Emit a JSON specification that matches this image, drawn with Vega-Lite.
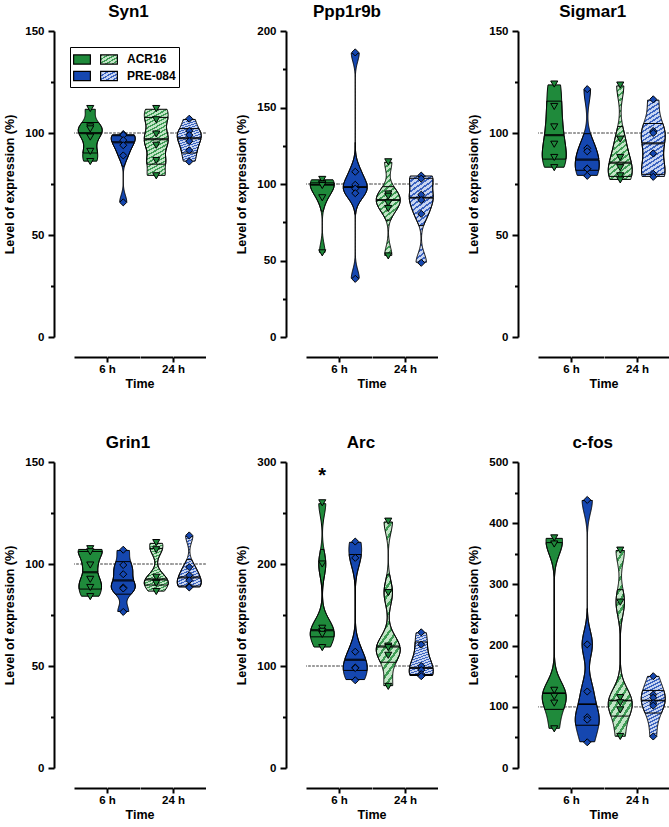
{
"$schema":"https://vega.github.io/schema/vega-lite/v6.json",
"padding":{"left":3,"top":3,"right":0,"bottom":0},
"params":[
{"name":"gG","value":{"gradient":"linear","x1":0,"y1":0,"x2":0.25,"y2":1.25,"stops":[{"offset":0,"color":"#3f9c55"},{"offset":0.018,"color":"#3f9c55"},{"offset":0.018,"color":"#c2e5c6"},{"offset":0.045,"color":"#c2e5c6"},{"offset":0.045,"color":"#3f9c55"},{"offset":0.064,"color":"#3f9c55"},{"offset":0.064,"color":"#c2e5c6"},{"offset":0.091,"color":"#c2e5c6"},{"offset":0.091,"color":"#3f9c55"},{"offset":0.109,"color":"#3f9c55"},{"offset":0.109,"color":"#c2e5c6"},{"offset":0.136,"color":"#c2e5c6"},{"offset":0.136,"color":"#3f9c55"},{"offset":0.155,"color":"#3f9c55"},{"offset":0.155,"color":"#c2e5c6"},{"offset":0.182,"color":"#c2e5c6"},{"offset":0.182,"color":"#3f9c55"},{"offset":0.2,"color":"#3f9c55"},{"offset":0.2,"color":"#c2e5c6"},{"offset":0.227,"color":"#c2e5c6"},{"offset":0.227,"color":"#3f9c55"},{"offset":0.245,"color":"#3f9c55"},{"offset":0.245,"color":"#c2e5c6"},{"offset":0.273,"color":"#c2e5c6"},{"offset":0.273,"color":"#3f9c55"},{"offset":0.291,"color":"#3f9c55"},{"offset":0.291,"color":"#c2e5c6"},{"offset":0.318,"color":"#c2e5c6"},{"offset":0.318,"color":"#3f9c55"},{"offset":0.336,"color":"#3f9c55"},{"offset":0.336,"color":"#c2e5c6"},{"offset":0.364,"color":"#c2e5c6"},{"offset":0.364,"color":"#3f9c55"},{"offset":0.382,"color":"#3f9c55"},{"offset":0.382,"color":"#c2e5c6"},{"offset":0.409,"color":"#c2e5c6"},{"offset":0.409,"color":"#3f9c55"},{"offset":0.427,"color":"#3f9c55"},{"offset":0.427,"color":"#c2e5c6"},{"offset":0.455,"color":"#c2e5c6"},{"offset":0.455,"color":"#3f9c55"},{"offset":0.473,"color":"#3f9c55"},{"offset":0.473,"color":"#c2e5c6"},{"offset":0.5,"color":"#c2e5c6"},{"offset":0.5,"color":"#3f9c55"},{"offset":0.518,"color":"#3f9c55"},{"offset":0.518,"color":"#c2e5c6"},{"offset":0.545,"color":"#c2e5c6"},{"offset":0.545,"color":"#3f9c55"},{"offset":0.564,"color":"#3f9c55"},{"offset":0.564,"color":"#c2e5c6"},{"offset":0.591,"color":"#c2e5c6"},{"offset":0.591,"color":"#3f9c55"},{"offset":0.609,"color":"#3f9c55"},{"offset":0.609,"color":"#c2e5c6"},{"offset":0.636,"color":"#c2e5c6"},{"offset":0.636,"color":"#3f9c55"},{"offset":0.655,"color":"#3f9c55"},{"offset":0.655,"color":"#c2e5c6"},{"offset":0.682,"color":"#c2e5c6"},{"offset":0.682,"color":"#3f9c55"},{"offset":0.7,"color":"#3f9c55"},{"offset":0.7,"color":"#c2e5c6"},{"offset":0.727,"color":"#c2e5c6"},{"offset":0.727,"color":"#3f9c55"},{"offset":0.745,"color":"#3f9c55"},{"offset":0.745,"color":"#c2e5c6"},{"offset":0.773,"color":"#c2e5c6"},{"offset":0.773,"color":"#3f9c55"},{"offset":0.791,"color":"#3f9c55"},{"offset":0.791,"color":"#c2e5c6"},{"offset":0.818,"color":"#c2e5c6"},{"offset":0.818,"color":"#3f9c55"},{"offset":0.836,"color":"#3f9c55"},{"offset":0.836,"color":"#c2e5c6"},{"offset":0.864,"color":"#c2e5c6"},{"offset":0.864,"color":"#3f9c55"},{"offset":0.882,"color":"#3f9c55"},{"offset":0.882,"color":"#c2e5c6"},{"offset":0.909,"color":"#c2e5c6"},{"offset":0.909,"color":"#3f9c55"},{"offset":0.927,"color":"#3f9c55"},{"offset":0.927,"color":"#c2e5c6"},{"offset":0.955,"color":"#c2e5c6"},{"offset":0.955,"color":"#3f9c55"},{"offset":0.973,"color":"#3f9c55"},{"offset":0.973,"color":"#c2e5c6"},{"offset":1,"color":"#c2e5c6"}]}},
{"name":"gB","value":{"gradient":"linear","x1":0,"y1":0,"x2":0.25,"y2":1.25,"stops":[{"offset":0,"color":"#3b63c0"},{"offset":0.018,"color":"#3b63c0"},{"offset":0.018,"color":"#c8d5f1"},{"offset":0.045,"color":"#c8d5f1"},{"offset":0.045,"color":"#3b63c0"},{"offset":0.064,"color":"#3b63c0"},{"offset":0.064,"color":"#c8d5f1"},{"offset":0.091,"color":"#c8d5f1"},{"offset":0.091,"color":"#3b63c0"},{"offset":0.109,"color":"#3b63c0"},{"offset":0.109,"color":"#c8d5f1"},{"offset":0.136,"color":"#c8d5f1"},{"offset":0.136,"color":"#3b63c0"},{"offset":0.155,"color":"#3b63c0"},{"offset":0.155,"color":"#c8d5f1"},{"offset":0.182,"color":"#c8d5f1"},{"offset":0.182,"color":"#3b63c0"},{"offset":0.2,"color":"#3b63c0"},{"offset":0.2,"color":"#c8d5f1"},{"offset":0.227,"color":"#c8d5f1"},{"offset":0.227,"color":"#3b63c0"},{"offset":0.245,"color":"#3b63c0"},{"offset":0.245,"color":"#c8d5f1"},{"offset":0.273,"color":"#c8d5f1"},{"offset":0.273,"color":"#3b63c0"},{"offset":0.291,"color":"#3b63c0"},{"offset":0.291,"color":"#c8d5f1"},{"offset":0.318,"color":"#c8d5f1"},{"offset":0.318,"color":"#3b63c0"},{"offset":0.336,"color":"#3b63c0"},{"offset":0.336,"color":"#c8d5f1"},{"offset":0.364,"color":"#c8d5f1"},{"offset":0.364,"color":"#3b63c0"},{"offset":0.382,"color":"#3b63c0"},{"offset":0.382,"color":"#c8d5f1"},{"offset":0.409,"color":"#c8d5f1"},{"offset":0.409,"color":"#3b63c0"},{"offset":0.427,"color":"#3b63c0"},{"offset":0.427,"color":"#c8d5f1"},{"offset":0.455,"color":"#c8d5f1"},{"offset":0.455,"color":"#3b63c0"},{"offset":0.473,"color":"#3b63c0"},{"offset":0.473,"color":"#c8d5f1"},{"offset":0.5,"color":"#c8d5f1"},{"offset":0.5,"color":"#3b63c0"},{"offset":0.518,"color":"#3b63c0"},{"offset":0.518,"color":"#c8d5f1"},{"offset":0.545,"color":"#c8d5f1"},{"offset":0.545,"color":"#3b63c0"},{"offset":0.564,"color":"#3b63c0"},{"offset":0.564,"color":"#c8d5f1"},{"offset":0.591,"color":"#c8d5f1"},{"offset":0.591,"color":"#3b63c0"},{"offset":0.609,"color":"#3b63c0"},{"offset":0.609,"color":"#c8d5f1"},{"offset":0.636,"color":"#c8d5f1"},{"offset":0.636,"color":"#3b63c0"},{"offset":0.655,"color":"#3b63c0"},{"offset":0.655,"color":"#c8d5f1"},{"offset":0.682,"color":"#c8d5f1"},{"offset":0.682,"color":"#3b63c0"},{"offset":0.7,"color":"#3b63c0"},{"offset":0.7,"color":"#c8d5f1"},{"offset":0.727,"color":"#c8d5f1"},{"offset":0.727,"color":"#3b63c0"},{"offset":0.745,"color":"#3b63c0"},{"offset":0.745,"color":"#c8d5f1"},{"offset":0.773,"color":"#c8d5f1"},{"offset":0.773,"color":"#3b63c0"},{"offset":0.791,"color":"#3b63c0"},{"offset":0.791,"color":"#c8d5f1"},{"offset":0.818,"color":"#c8d5f1"},{"offset":0.818,"color":"#3b63c0"},{"offset":0.836,"color":"#3b63c0"},{"offset":0.836,"color":"#c8d5f1"},{"offset":0.864,"color":"#c8d5f1"},{"offset":0.864,"color":"#3b63c0"},{"offset":0.882,"color":"#3b63c0"},{"offset":0.882,"color":"#c8d5f1"},{"offset":0.909,"color":"#c8d5f1"},{"offset":0.909,"color":"#3b63c0"},{"offset":0.927,"color":"#3b63c0"},{"offset":0.927,"color":"#c8d5f1"},{"offset":0.955,"color":"#c8d5f1"},{"offset":0.955,"color":"#3b63c0"},{"offset":0.973,"color":"#3b63c0"},{"offset":0.973,"color":"#c8d5f1"},{"offset":1,"color":"#c8d5f1"}]}},
{"name":"lG","value":{"gradient":"linear","x1":0,"y1":0,"x2":1,"y2":1,"stops":[{"offset":0,"color":"#3f9c55"},{"offset":0.08,"color":"#3f9c55"},{"offset":0.08,"color":"#c2e5c6"},{"offset":0.2,"color":"#c2e5c6"},{"offset":0.2,"color":"#3f9c55"},{"offset":0.28,"color":"#3f9c55"},{"offset":0.28,"color":"#c2e5c6"},{"offset":0.4,"color":"#c2e5c6"},{"offset":0.4,"color":"#3f9c55"},{"offset":0.48,"color":"#3f9c55"},{"offset":0.48,"color":"#c2e5c6"},{"offset":0.6,"color":"#c2e5c6"},{"offset":0.6,"color":"#3f9c55"},{"offset":0.68,"color":"#3f9c55"},{"offset":0.68,"color":"#c2e5c6"},{"offset":0.8,"color":"#c2e5c6"},{"offset":0.8,"color":"#3f9c55"},{"offset":0.88,"color":"#3f9c55"},{"offset":0.88,"color":"#c2e5c6"},{"offset":1,"color":"#c2e5c6"}]}},
{"name":"lB","value":{"gradient":"linear","x1":0,"y1":0,"x2":1,"y2":1,"stops":[{"offset":0,"color":"#3b63c0"},{"offset":0.08,"color":"#3b63c0"},{"offset":0.08,"color":"#c8d5f1"},{"offset":0.2,"color":"#c8d5f1"},{"offset":0.2,"color":"#3b63c0"},{"offset":0.28,"color":"#3b63c0"},{"offset":0.28,"color":"#c8d5f1"},{"offset":0.4,"color":"#c8d5f1"},{"offset":0.4,"color":"#3b63c0"},{"offset":0.48,"color":"#3b63c0"},{"offset":0.48,"color":"#c8d5f1"},{"offset":0.6,"color":"#c8d5f1"},{"offset":0.6,"color":"#3b63c0"},{"offset":0.68,"color":"#3b63c0"},{"offset":0.68,"color":"#c8d5f1"},{"offset":0.8,"color":"#c8d5f1"},{"offset":0.8,"color":"#3b63c0"},{"offset":0.88,"color":"#3b63c0"},{"offset":0.88,"color":"#c8d5f1"},{"offset":1,"color":"#c8d5f1"}]}}
],
"datasets":{
"pts":[
{"vid":"Syn1 1","d":"ACR16","v":112},{"vid":"Syn1 1","d":"ACR16","v":103},{"vid":"Syn1 1","d":"ACR16","v":102},{"vid":"Syn1 1","d":"ACR16","v":98},{"vid":"Syn1 1","d":"ACR16","v":91},{"vid":"Syn1 1","d":"ACR16","v":86},
{"vid":"Syn1 2","d":"PRE-084","v":99.5},{"vid":"Syn1 2","d":"PRE-084","v":99},{"vid":"Syn1 2","d":"PRE-084","v":96.5},{"vid":"Syn1 2","d":"PRE-084","v":94},{"vid":"Syn1 2","d":"PRE-084","v":89},{"vid":"Syn1 2","d":"PRE-084","v":66},
{"vid":"Syn1 3","d":"ACR16","v":112},{"vid":"Syn1 3","d":"ACR16","v":106.5},{"vid":"Syn1 3","d":"ACR16","v":99.5},{"vid":"Syn1 3","d":"ACR16","v":94},{"vid":"Syn1 3","d":"ACR16","v":86.5},{"vid":"Syn1 3","d":"ACR16","v":79},
{"vid":"Syn1 4","d":"PRE-084","v":107},{"vid":"Syn1 4","d":"PRE-084","v":101},{"vid":"Syn1 4","d":"PRE-084","v":99},{"vid":"Syn1 4","d":"PRE-084","v":96},{"vid":"Syn1 4","d":"PRE-084","v":91.5},{"vid":"Syn1 4","d":"PRE-084","v":86},
{"vid":"Ppp1r9b 1","d":"ACR16","v":103},{"vid":"Ppp1r9b 1","d":"ACR16","v":100},{"vid":"Ppp1r9b 1","d":"ACR16","v":100},{"vid":"Ppp1r9b 1","d":"ACR16","v":99},{"vid":"Ppp1r9b 1","d":"ACR16","v":91},{"vid":"Ppp1r9b 1","d":"ACR16","v":55},
{"vid":"Ppp1r9b 2","d":"PRE-084","v":186},{"vid":"Ppp1r9b 2","d":"PRE-084","v":108},{"vid":"Ppp1r9b 2","d":"PRE-084","v":99.5},{"vid":"Ppp1r9b 2","d":"PRE-084","v":97},{"vid":"Ppp1r9b 2","d":"PRE-084","v":94},{"vid":"Ppp1r9b 2","d":"PRE-084","v":38},
{"vid":"Ppp1r9b 3","d":"ACR16","v":114.5},{"vid":"Ppp1r9b 3","d":"ACR16","v":93.5},{"vid":"Ppp1r9b 3","d":"ACR16","v":92},{"vid":"Ppp1r9b 3","d":"ACR16","v":87.5},{"vid":"Ppp1r9b 3","d":"ACR16","v":84},{"vid":"Ppp1r9b 3","d":"ACR16","v":53},
{"vid":"Ppp1r9b 4","d":"PRE-084","v":105.5},{"vid":"Ppp1r9b 4","d":"PRE-084","v":103.5},{"vid":"Ppp1r9b 4","d":"PRE-084","v":93},{"vid":"Ppp1r9b 4","d":"PRE-084","v":89.5},{"vid":"Ppp1r9b 4","d":"PRE-084","v":80.5},{"vid":"Ppp1r9b 4","d":"PRE-084","v":48.5},
{"vid":"Sigmar1 1","d":"ACR16","v":124},{"vid":"Sigmar1 1","d":"ACR16","v":113},{"vid":"Sigmar1 1","d":"ACR16","v":103},{"vid":"Sigmar1 1","d":"ACR16","v":94.5},{"vid":"Sigmar1 1","d":"ACR16","v":88},{"vid":"Sigmar1 1","d":"ACR16","v":83},
{"vid":"Sigmar1 2","d":"PRE-084","v":121.5},{"vid":"Sigmar1 2","d":"PRE-084","v":92.5},{"vid":"Sigmar1 2","d":"PRE-084","v":91},{"vid":"Sigmar1 2","d":"PRE-084","v":82.5},{"vid":"Sigmar1 2","d":"PRE-084","v":82.5},{"vid":"Sigmar1 2","d":"PRE-084","v":79},
{"vid":"Sigmar1 3","d":"ACR16","v":123.5},{"vid":"Sigmar1 3","d":"ACR16","v":97},{"vid":"Sigmar1 3","d":"ACR16","v":88},{"vid":"Sigmar1 3","d":"ACR16","v":83},{"vid":"Sigmar1 3","d":"ACR16","v":79},{"vid":"Sigmar1 3","d":"ACR16","v":77},
{"vid":"Sigmar1 4","d":"PRE-084","v":116.5},{"vid":"Sigmar1 4","d":"PRE-084","v":101},{"vid":"Sigmar1 4","d":"PRE-084","v":100},{"vid":"Sigmar1 4","d":"PRE-084","v":90},{"vid":"Sigmar1 4","d":"PRE-084","v":80},{"vid":"Sigmar1 4","d":"PRE-084","v":78.5},
{"vid":"Grin1 1","d":"ACR16","v":107.5},{"vid":"Grin1 1","d":"ACR16","v":106},{"vid":"Grin1 1","d":"ACR16","v":99.5},{"vid":"Grin1 1","d":"ACR16","v":92.5},{"vid":"Grin1 1","d":"ACR16","v":88.5},{"vid":"Grin1 1","d":"ACR16","v":84},
{"vid":"Grin1 2","d":"PRE-084","v":107},{"vid":"Grin1 2","d":"PRE-084","v":99.5},{"vid":"Grin1 2","d":"PRE-084","v":95},{"vid":"Grin1 2","d":"PRE-084","v":88.5},{"vid":"Grin1 2","d":"PRE-084","v":88},{"vid":"Grin1 2","d":"PRE-084","v":76.5},
{"vid":"Grin1 3","d":"ACR16","v":110.5},{"vid":"Grin1 3","d":"ACR16","v":107},{"vid":"Grin1 3","d":"ACR16","v":93.5},{"vid":"Grin1 3","d":"ACR16","v":91},{"vid":"Grin1 3","d":"ACR16","v":90.5},{"vid":"Grin1 3","d":"ACR16","v":86.5},
{"vid":"Grin1 4","d":"PRE-084","v":114},{"vid":"Grin1 4","d":"PRE-084","v":98.5},{"vid":"Grin1 4","d":"PRE-084","v":94.5},{"vid":"Grin1 4","d":"PRE-084","v":92},{"vid":"Grin1 4","d":"PRE-084","v":89},{"vid":"Grin1 4","d":"PRE-084","v":88.5},
{"vid":"Arc 1","d":"ACR16","v":260},{"vid":"Arc 1","d":"ACR16","v":200},{"vid":"Arc 1","d":"ACR16","v":137},{"vid":"Arc 1","d":"ACR16","v":134},{"vid":"Arc 1","d":"ACR16","v":131},{"vid":"Arc 1","d":"ACR16","v":118},
{"vid":"Arc 2","d":"PRE-084","v":222},{"vid":"Arc 2","d":"PRE-084","v":206},{"vid":"Arc 2","d":"PRE-084","v":114},{"vid":"Arc 2","d":"PRE-084","v":98.5},{"vid":"Arc 2","d":"PRE-084","v":98},{"vid":"Arc 2","d":"PRE-084","v":86},
{"vid":"Arc 3","d":"ACR16","v":242},{"vid":"Arc 3","d":"ACR16","v":172},{"vid":"Arc 3","d":"ACR16","v":119.5},{"vid":"Arc 3","d":"ACR16","v":118},{"vid":"Arc 3","d":"ACR16","v":110.5},{"vid":"Arc 3","d":"ACR16","v":80},
{"vid":"Arc 4","d":"PRE-084","v":133},{"vid":"Arc 4","d":"PRE-084","v":121},{"vid":"Arc 4","d":"PRE-084","v":100},{"vid":"Arc 4","d":"PRE-084","v":96},{"vid":"Arc 4","d":"PRE-084","v":92},{"vid":"Arc 4","d":"PRE-084","v":90},
{"vid":"c-fos 1","d":"ACR16","v":376},{"vid":"c-fos 1","d":"ACR16","v":366},{"vid":"c-fos 1","d":"ACR16","v":127},{"vid":"c-fos 1","d":"ACR16","v":117},{"vid":"c-fos 1","d":"ACR16","v":106},{"vid":"c-fos 1","d":"ACR16","v":64},
{"vid":"c-fos 2","d":"PRE-084","v":438},{"vid":"c-fos 2","d":"PRE-084","v":202},{"vid":"c-fos 2","d":"PRE-084","v":125},{"vid":"c-fos 2","d":"PRE-084","v":83},{"vid":"c-fos 2","d":"PRE-084","v":79},{"vid":"c-fos 2","d":"PRE-084","v":42},
{"vid":"c-fos 3","d":"ACR16","v":356},{"vid":"c-fos 3","d":"ACR16","v":271},{"vid":"c-fos 3","d":"ACR16","v":115},{"vid":"c-fos 3","d":"ACR16","v":106.5},{"vid":"c-fos 3","d":"ACR16","v":95},{"vid":"c-fos 3","d":"ACR16","v":51.5},
{"vid":"c-fos 4","d":"PRE-084","v":150},{"vid":"c-fos 4","d":"PRE-084","v":120},{"vid":"c-fos 4","d":"PRE-084","v":115},{"vid":"c-fos 4","d":"PRE-084","v":106},{"vid":"c-fos 4","d":"PRE-084","v":102},{"vid":"c-fos 4","d":"PRE-084","v":51.5}
],
"st":[
{"vid":"Syn1 1","mn":86,"q1":89.75,"md":100,"q3":105.25,"mx":112},
{"vid":"Syn1 2","mn":66,"q1":83.25,"md":95.25,"q3":99.1,"mx":99.5},
{"vid":"Syn1 3","mn":79,"q1":84.6,"md":96.75,"q3":107.9,"mx":112},
{"vid":"Syn1 4","mn":86,"q1":90.1,"md":97.5,"q3":102.5,"mx":107},
{"vid":"Ppp1r9b 1","mn":55,"q1":82,"md":99.5,"q3":100.75,"mx":103},
{"vid":"Ppp1r9b 2","mn":38,"q1":80,"md":98.25,"q3":127.5,"mx":186},
{"vid":"Ppp1r9b 3","mn":53,"q1":76.25,"md":89.75,"q3":98.75,"mx":114.5},
{"vid":"Ppp1r9b 4","mn":48.5,"q1":72.5,"md":91.25,"q3":104,"mx":105.5},
{"vid":"Sigmar1 1","mn":83,"q1":86.75,"md":98.75,"q3":115.75,"mx":124},
{"vid":"Sigmar1 2","mn":79,"q1":81.6,"md":86.75,"q3":99.75,"mx":121.5},
{"vid":"Sigmar1 3","mn":77,"q1":78.5,"md":85.5,"q3":103.6,"mx":123.5},
{"vid":"Sigmar1 4","mn":78.5,"q1":79.6,"md":95,"q3":104.9,"mx":116.5},
{"vid":"Grin1 1","mn":84,"q1":87.4,"md":96,"q3":106.4,"mx":107.5},
{"vid":"Grin1 2","mn":76.5,"q1":85.1,"md":91.75,"q3":101.4,"mx":107},
{"vid":"Grin1 3","mn":86.5,"q1":89.5,"md":92.25,"q3":107.9,"mx":110.5},
{"vid":"Grin1 4","mn":88.5,"q1":88.9,"md":93.25,"q3":102.4,"mx":114},
{"vid":"Arc 1","mn":118,"q1":127.75,"md":135.5,"q3":215,"mx":260,"sig":"*"},
{"vid":"Arc 2","mn":86,"q1":95,"md":106.25,"q3":210,"mx":222,"sig":""},
{"vid":"Arc 3","mn":80,"q1":102.9,"md":118.75,"q3":189.5,"mx":242,"sig":""},
{"vid":"Arc 4","mn":90,"q1":91.5,"md":98,"q3":124,"mx":133,"sig":""},
{"vid":"c-fos 1","mn":64,"q1":95.5,"md":122,"q3":368.5,"mx":376},
{"vid":"c-fos 2","mn":42,"q1":69.75,"md":104,"q3":261,"mx":438},
{"vid":"c-fos 3","mn":51.5,"q1":84.1,"md":110.75,"q3":292.25,"mx":356},
{"vid":"c-fos 4","mn":51.5,"q1":89.4,"md":110.5,"q3":127.5,"mx":150}
]
},
"vconcat":[
{"hconcat":[
{"title":{"text":"Syn1","frame":"group","anchor":"middle","dx":54.5},"data":{"name":"pts"},"transform":[{"filter":"indexof(datum.vid,'Syn1 ')==0"},{"lookup":"vid","from":{"data":{"name":"st"},"key":"vid","fields":["mn","q1","md","q3","mx"]}}],
"facet":{"column":{"field":"vid","type":"nominal","header":{"title":"Time","labels":false,"titleOrient":"bottom"}}},
"spacing":0,"bounds":"flush","resolve":{"scale":{"x":"independent"}},
"spec":{"width":32.5,"height":306,
"encoding":{"y":{"field":"v","type":"quantitative","scale":{"domain":[0,150],"nice":false},"axis":{"title":"Level of expression (%)","values":[0,25,50,75,100,125,150],"labelExpr":"datum.value%50?'':datum.label","tickSize":{"condition":{"test":"datum.value%50==0","value":6},"value":3.5}}}},
"layer":[
{"mark":{"type":"rule","color":"#999999","strokeDash":[2,2]},"encoding":{"y":{"datum":100}}},
{"transform":[{"density":"v","groupby":["vid","d","mn","q1","md","q3","mx"],"bandwidth":3.5,"extent":[0,150],"steps":301,"as":["v","dens"]},{"stack":"dens","groupby":["v","vid"],"offset":"center","as":["x0","x1"]}],
"encoding":{"x":{"field":"x0","type":"quantitative","scale":{"nice":false,"zero":false,"padding":4.25},"axis":null},"x2":{"field":"x1"}},
"layer":[
{"transform":[{"filter":"datum.v>=datum.mn&&datum.v<=datum.mx&&slice(datum.vid,-1)<'3'"}],"mark":{"type":"area","orient":"horizontal"},"encoding":{"color":{"field":"d","type":"nominal","legend":null}}},
{"transform":[{"filter":"datum.v>=datum.mn&&datum.v<=datum.mx&&slice(datum.vid,-1)=='3'"}],"mark":{"type":"area","orient":"horizontal","fill":{"expr":"gG"}}},
{"transform":[{"filter":"datum.v>=datum.mn&&datum.v<=datum.mx&&slice(datum.vid,-1)=='4'"}],"mark":{"type":"area","orient":"horizontal","fill":{"expr":"gB"}}},
{"transform":[{"filter":"datum.v>=datum.q1&&datum.v<=datum.md"}],"mark":{"type":"area","orient":"horizontal","fill":"transparent"}},
{"transform":[{"filter":"datum.v>=datum.md&&datum.v<=datum.q3"}],"mark":{"type":"area","orient":"horizontal","fill":"transparent"}}
]},
{"mark":{"type":"point","filled":true,"stroke":"#000","strokeWidth":1,"size":50,"opacity":1},"encoding":{"x":{"field":"vid","type":"nominal","scale":{"type":"band","paddingInner":0,"paddingOuter":0},"axis":{"title":null,"tickOffset":-16.25,"tickSize":5,"tickOpacity":{"condition":{"test":"slice(datum.value,-1)=='2'||slice(datum.value,-1)=='4'","value":1},"value":0},"labelExpr":"slice(datum.value,-1)=='2'?'6 h':slice(datum.value,-1)=='4'?'24 h':''","labelAngle":0,"labelFlush":false,"labelOverlap":false}},"color":{"field":"d","type":"nominal","legend":null},"shape":{"field":"d","type":"nominal","legend":null}}},
{"transform":[{"filter":"false"}],"mark":{"type":"square","stroke":"#000","opacity":1},"encoding":{"fill":{"field":"lg","type":"nominal","scale":{"domain":["a6","p6","a24","p24"],"range":["#1f8a3b","#1547b0",{"expr":"lG"},{"expr":"lB"}]},"legend":{"orient":"none","legendX":-4,"legendY":16,"columns":2,"title":null,"symbolType":"M-1,-0.55H1V0.55H-1Z","symbolSize":280,"symbolStrokeColor":"#000","symbolStrokeWidth":1.2,"symbolOpacity":1,"labelExpr":"datum.label=='a24'?'ACR16':datum.label=='p24'?'PRE-084':''","labelFontSize":12,"labelFontWeight":"bold","labelColor":"#000","labelOffset":9,"columnPadding":-6,"rowPadding":-2.7,"strokeColor":"#000","padding":3}}}}
],
"resolve":{"scale":{"x":"independent"}}}},
{"title":{"text":"Ppp1r9b","frame":"group","anchor":"middle","dx":41},"data":{"name":"pts"},"transform":[{"filter":"indexof(datum.vid,'Ppp1r9b ')==0"},{"lookup":"vid","from":{"data":{"name":"st"},"key":"vid","fields":["mn","q1","md","q3","mx"]}}],
"facet":{"column":{"field":"vid","type":"nominal","header":{"title":"Time","labels":false,"titleOrient":"bottom"}}},
"spacing":0,"bounds":"flush","resolve":{"scale":{"x":"independent"}},
"spec":{"width":32.5,"height":306,
"encoding":{"y":{"field":"v","type":"quantitative","scale":{"domain":[0,200],"nice":false},"axis":{"title":"Level of expression (%)","values":[0,25,50,75,100,125,150,175,200],"labelExpr":"datum.value%50?'':datum.label","tickSize":{"condition":{"test":"datum.value%50==0","value":6},"value":3.5}}}},
"layer":[
{"mark":{"type":"rule","color":"#999999","strokeDash":[2,2]},"encoding":{"y":{"datum":100}}},
{"transform":[{"density":"v","groupby":["vid","d","mn","q1","md","q3","mx"],"bandwidth":6,"extent":[0,200],"steps":401,"as":["v","dens"]},{"stack":"dens","groupby":["v","vid"],"offset":"center","as":["x0","x1"]}],
"encoding":{"x":{"field":"x0","type":"quantitative","scale":{"nice":false,"zero":false,"padding":4.25},"axis":null},"x2":{"field":"x1"}},
"layer":[
{"transform":[{"filter":"datum.v>=datum.mn&&datum.v<=datum.mx&&slice(datum.vid,-1)<'3'"}],"mark":{"type":"area","orient":"horizontal"},"encoding":{"color":{"field":"d","type":"nominal","legend":null}}},
{"transform":[{"filter":"datum.v>=datum.mn&&datum.v<=datum.mx&&slice(datum.vid,-1)=='3'"}],"mark":{"type":"area","orient":"horizontal","fill":{"expr":"gG"}}},
{"transform":[{"filter":"datum.v>=datum.mn&&datum.v<=datum.mx&&slice(datum.vid,-1)=='4'"}],"mark":{"type":"area","orient":"horizontal","fill":{"expr":"gB"}}},
{"transform":[{"filter":"datum.v>=datum.q1&&datum.v<=datum.md"}],"mark":{"type":"area","orient":"horizontal","fill":"transparent"}},
{"transform":[{"filter":"datum.v>=datum.md&&datum.v<=datum.q3"}],"mark":{"type":"area","orient":"horizontal","fill":"transparent"}}
]},
{"mark":{"type":"point","filled":true,"stroke":"#000","strokeWidth":1,"size":50,"opacity":1},"encoding":{"x":{"field":"vid","type":"nominal","scale":{"type":"band","paddingInner":0,"paddingOuter":0},"axis":{"title":null,"tickOffset":-16.25,"tickSize":5,"tickOpacity":{"condition":{"test":"slice(datum.value,-1)=='2'||slice(datum.value,-1)=='4'","value":1},"value":0},"labelExpr":"slice(datum.value,-1)=='2'?'6 h':slice(datum.value,-1)=='4'?'24 h':''","labelAngle":0,"labelFlush":false,"labelOverlap":false}},"color":{"field":"d","type":"nominal","legend":null},"shape":{"field":"d","type":"nominal","legend":null}}}
],
"resolve":{"scale":{"x":"independent"}}}},
{"title":{"text":"Sigmar1","frame":"group","anchor":"middle","dx":54.7},"data":{"name":"pts"},"transform":[{"filter":"indexof(datum.vid,'Sigmar1 ')==0"},{"lookup":"vid","from":{"data":{"name":"st"},"key":"vid","fields":["mn","q1","md","q3","mx"]}}],
"facet":{"column":{"field":"vid","type":"nominal","header":{"title":"Time","labels":false,"titleOrient":"bottom"}}},
"spacing":0,"bounds":"flush","resolve":{"scale":{"x":"independent"}},
"spec":{"width":32.5,"height":306,
"encoding":{"y":{"field":"v","type":"quantitative","scale":{"domain":[0,150],"nice":false},"axis":{"title":"Level of expression (%)","values":[0,25,50,75,100,125,150],"labelExpr":"datum.value%50?'':datum.label","tickSize":{"condition":{"test":"datum.value%50==0","value":6},"value":3.5}}}},
"layer":[
{"mark":{"type":"rule","color":"#999999","strokeDash":[2,2]},"encoding":{"y":{"datum":100}}},
{"transform":[{"density":"v","groupby":["vid","d","mn","q1","md","q3","mx"],"bandwidth":6.5,"extent":[0,150],"steps":301,"as":["v","dens"]},{"stack":"dens","groupby":["v","vid"],"offset":"center","as":["x0","x1"]}],
"encoding":{"x":{"field":"x0","type":"quantitative","scale":{"nice":false,"zero":false,"padding":4.25},"axis":null},"x2":{"field":"x1"}},
"layer":[
{"transform":[{"filter":"datum.v>=datum.mn&&datum.v<=datum.mx&&slice(datum.vid,-1)<'3'"}],"mark":{"type":"area","orient":"horizontal"},"encoding":{"color":{"field":"d","type":"nominal","legend":null}}},
{"transform":[{"filter":"datum.v>=datum.mn&&datum.v<=datum.mx&&slice(datum.vid,-1)=='3'"}],"mark":{"type":"area","orient":"horizontal","fill":{"expr":"gG"}}},
{"transform":[{"filter":"datum.v>=datum.mn&&datum.v<=datum.mx&&slice(datum.vid,-1)=='4'"}],"mark":{"type":"area","orient":"horizontal","fill":{"expr":"gB"}}},
{"transform":[{"filter":"datum.v>=datum.q1&&datum.v<=datum.md"}],"mark":{"type":"area","orient":"horizontal","fill":"transparent"}},
{"transform":[{"filter":"datum.v>=datum.md&&datum.v<=datum.q3"}],"mark":{"type":"area","orient":"horizontal","fill":"transparent"}}
]},
{"mark":{"type":"point","filled":true,"stroke":"#000","strokeWidth":1,"size":50,"opacity":1},"encoding":{"x":{"field":"vid","type":"nominal","scale":{"type":"band","paddingInner":0,"paddingOuter":0},"axis":{"title":null,"tickOffset":-16.25,"tickSize":5,"tickOpacity":{"condition":{"test":"slice(datum.value,-1)=='2'||slice(datum.value,-1)=='4'","value":1},"value":0},"labelExpr":"slice(datum.value,-1)=='2'?'6 h':slice(datum.value,-1)=='4'?'24 h':''","labelAngle":0,"labelFlush":false,"labelOverlap":false}},"color":{"field":"d","type":"nominal","legend":null},"shape":{"field":"d","type":"nominal","legend":null}}}
],
"resolve":{"scale":{"x":"independent"}}}}
],"spacing":29},
{"hconcat":[
{"title":{"text":"Grin1","frame":"group","anchor":"middle","dx":54},"data":{"name":"pts"},"transform":[{"filter":"indexof(datum.vid,'Grin1 ')==0"},{"lookup":"vid","from":{"data":{"name":"st"},"key":"vid","fields":["mn","q1","md","q3","mx"]}}],
"facet":{"column":{"field":"vid","type":"nominal","header":{"title":"Time","labels":false,"titleOrient":"bottom"}}},
"spacing":0,"bounds":"flush","resolve":{"scale":{"x":"independent"}},
"spec":{"width":32.5,"height":306,
"encoding":{"y":{"field":"v","type":"quantitative","scale":{"domain":[0,150],"nice":false},"axis":{"title":"Level of expression (%)","values":[0,25,50,75,100,125,150],"labelExpr":"datum.value%50?'':datum.label","tickSize":{"condition":{"test":"datum.value%50==0","value":6},"value":3.5}}}},
"layer":[
{"mark":{"type":"rule","color":"#999999","strokeDash":[2,2]},"encoding":{"y":{"datum":100}}},
{"transform":[{"density":"v","groupby":["vid","d","mn","q1","md","q3","mx"],"bandwidth":3.5,"extent":[0,150],"steps":301,"as":["v","dens"]},{"stack":"dens","groupby":["v","vid"],"offset":"center","as":["x0","x1"]}],
"encoding":{"x":{"field":"x0","type":"quantitative","scale":{"nice":false,"zero":false,"padding":4.25},"axis":null},"x2":{"field":"x1"}},
"layer":[
{"transform":[{"filter":"datum.v>=datum.mn&&datum.v<=datum.mx&&slice(datum.vid,-1)<'3'"}],"mark":{"type":"area","orient":"horizontal"},"encoding":{"color":{"field":"d","type":"nominal","legend":null}}},
{"transform":[{"filter":"datum.v>=datum.mn&&datum.v<=datum.mx&&slice(datum.vid,-1)=='3'"}],"mark":{"type":"area","orient":"horizontal","fill":{"expr":"gG"}}},
{"transform":[{"filter":"datum.v>=datum.mn&&datum.v<=datum.mx&&slice(datum.vid,-1)=='4'"}],"mark":{"type":"area","orient":"horizontal","fill":{"expr":"gB"}}},
{"transform":[{"filter":"datum.v>=datum.q1&&datum.v<=datum.md"}],"mark":{"type":"area","orient":"horizontal","fill":"transparent"}},
{"transform":[{"filter":"datum.v>=datum.md&&datum.v<=datum.q3"}],"mark":{"type":"area","orient":"horizontal","fill":"transparent"}}
]},
{"mark":{"type":"point","filled":true,"stroke":"#000","strokeWidth":1,"size":50,"opacity":1},"encoding":{"x":{"field":"vid","type":"nominal","scale":{"type":"band","paddingInner":0,"paddingOuter":0},"axis":{"title":null,"tickOffset":-16.25,"tickSize":5,"tickOpacity":{"condition":{"test":"slice(datum.value,-1)=='2'||slice(datum.value,-1)=='4'","value":1},"value":0},"labelExpr":"slice(datum.value,-1)=='2'?'6 h':slice(datum.value,-1)=='4'?'24 h':''","labelAngle":0,"labelFlush":false,"labelOverlap":false}},"color":{"field":"d","type":"nominal","legend":null},"shape":{"field":"d","type":"nominal","legend":null}}}
],
"resolve":{"scale":{"x":"independent"}}}},
{"title":{"text":"Arc","frame":"group","anchor":"middle","dx":55},"data":{"name":"pts"},"transform":[{"filter":"indexof(datum.vid,'Arc ')==0"},{"lookup":"vid","from":{"data":{"name":"st"},"key":"vid","fields":["mn","q1","md","q3","mx","sig"]}}],
"facet":{"column":{"field":"vid","type":"nominal","header":{"title":"Time","labels":false,"titleOrient":"bottom"}}},
"spacing":0,"bounds":"flush","resolve":{"scale":{"x":"independent"}},
"spec":{"width":32.5,"height":306,
"encoding":{"y":{"field":"v","type":"quantitative","scale":{"domain":[0,300],"nice":false},"axis":{"title":"Level of expression (%)","values":[0,50,100,150,200,250,300],"labelExpr":"datum.value%100?'':datum.label","tickSize":{"condition":{"test":"datum.value%100==0","value":6},"value":3.5}}}},
"layer":[
{"mark":{"type":"rule","color":"#999999","strokeDash":[2,2]},"encoding":{"y":{"datum":100}}},
{"transform":[{"density":"v","groupby":["vid","d","mn","q1","md","q3","mx"],"bandwidth":12,"extent":[0,300],"steps":301,"as":["v","dens"]},{"stack":"dens","groupby":["v","vid"],"offset":"center","as":["x0","x1"]}],
"encoding":{"x":{"field":"x0","type":"quantitative","scale":{"nice":false,"zero":false,"padding":4.25},"axis":null},"x2":{"field":"x1"}},
"layer":[
{"transform":[{"filter":"datum.v>=datum.mn&&datum.v<=datum.mx&&slice(datum.vid,-1)<'3'"}],"mark":{"type":"area","orient":"horizontal"},"encoding":{"color":{"field":"d","type":"nominal","legend":null}}},
{"transform":[{"filter":"datum.v>=datum.mn&&datum.v<=datum.mx&&slice(datum.vid,-1)=='3'"}],"mark":{"type":"area","orient":"horizontal","fill":{"expr":"gG"}}},
{"transform":[{"filter":"datum.v>=datum.mn&&datum.v<=datum.mx&&slice(datum.vid,-1)=='4'"}],"mark":{"type":"area","orient":"horizontal","fill":{"expr":"gB"}}},
{"transform":[{"filter":"datum.v>=datum.q1&&datum.v<=datum.md"}],"mark":{"type":"area","orient":"horizontal","fill":"transparent"}},
{"transform":[{"filter":"datum.v>=datum.md&&datum.v<=datum.q3"}],"mark":{"type":"area","orient":"horizontal","fill":"transparent"}}
]},
{"mark":{"type":"point","filled":true,"stroke":"#000","strokeWidth":1,"size":50,"opacity":1},"encoding":{"x":{"field":"vid","type":"nominal","scale":{"type":"band","paddingInner":0,"paddingOuter":0},"axis":{"title":null,"tickOffset":-16.25,"tickSize":5,"tickOpacity":{"condition":{"test":"slice(datum.value,-1)=='2'||slice(datum.value,-1)=='4'","value":1},"value":0},"labelExpr":"slice(datum.value,-1)=='2'?'6 h':slice(datum.value,-1)=='4'?'24 h':''","labelAngle":0,"labelFlush":false,"labelOverlap":false}},"color":{"field":"d","type":"nominal","legend":null},"shape":{"field":"d","type":"nominal","legend":null}}},
{"transform":[{"filter":"datum.sig=='*'"},{"aggregate":[{"op":"max","field":"mx","as":"mx"}],"groupby":["vid","sig"]}],"mark":{"type":"text","fontSize":20,"fontWeight":"bold","dy":-21,"baseline":"alphabetic","color":"#000"},"encoding":{"x":{"field":"vid","type":"nominal","scale":{"type":"band","paddingInner":0,"paddingOuter":0},"axis":null},"y":{"field":"mx","type":"quantitative"},"text":{"field":"sig","type":"nominal"}}}
],
"resolve":{"scale":{"x":"independent"}}}},
{"title":{"text":"c-fos","frame":"group","anchor":"middle","dx":54.7},"data":{"name":"pts"},"transform":[{"filter":"indexof(datum.vid,'c-fos ')==0"},{"lookup":"vid","from":{"data":{"name":"st"},"key":"vid","fields":["mn","q1","md","q3","mx"]}}],
"facet":{"column":{"field":"vid","type":"nominal","header":{"title":"Time","labels":false,"titleOrient":"bottom"}}},
"spacing":0,"bounds":"flush","resolve":{"scale":{"x":"independent"}},
"spec":{"width":32.5,"height":306,
"encoding":{"y":{"field":"v","type":"quantitative","scale":{"domain":[0,500],"nice":false},"axis":{"title":"Level of expression (%)","values":[0,50,100,150,200,250,300,350,400,450,500],"labelExpr":"datum.value%100?'':datum.label","tickSize":{"condition":{"test":"datum.value%100==0","value":6},"value":3.5}}}},
"layer":[
{"mark":{"type":"rule","color":"#999999","strokeDash":[2,2]},"encoding":{"y":{"datum":100}}},
{"transform":[{"density":"v","groupby":["vid","d","mn","q1","md","q3","mx"],"bandwidth":22,"extent":[0,500],"steps":501,"as":["v","dens"]},{"stack":"dens","groupby":["v","vid"],"offset":"center","as":["x0","x1"]}],
"encoding":{"x":{"field":"x0","type":"quantitative","scale":{"nice":false,"zero":false,"padding":4.25},"axis":null},"x2":{"field":"x1"}},
"layer":[
{"transform":[{"filter":"datum.v>=datum.mn&&datum.v<=datum.mx&&slice(datum.vid,-1)<'3'"}],"mark":{"type":"area","orient":"horizontal"},"encoding":{"color":{"field":"d","type":"nominal","legend":null}}},
{"transform":[{"filter":"datum.v>=datum.mn&&datum.v<=datum.mx&&slice(datum.vid,-1)=='3'"}],"mark":{"type":"area","orient":"horizontal","fill":{"expr":"gG"}}},
{"transform":[{"filter":"datum.v>=datum.mn&&datum.v<=datum.mx&&slice(datum.vid,-1)=='4'"}],"mark":{"type":"area","orient":"horizontal","fill":{"expr":"gB"}}},
{"transform":[{"filter":"datum.v>=datum.q1&&datum.v<=datum.md"}],"mark":{"type":"area","orient":"horizontal","fill":"transparent"}},
{"transform":[{"filter":"datum.v>=datum.md&&datum.v<=datum.q3"}],"mark":{"type":"area","orient":"horizontal","fill":"transparent"}}
]},
{"mark":{"type":"point","filled":true,"stroke":"#000","strokeWidth":1,"size":50,"opacity":1},"encoding":{"x":{"field":"vid","type":"nominal","scale":{"type":"band","paddingInner":0,"paddingOuter":0},"axis":{"title":null,"tickOffset":-16.25,"tickSize":5,"tickOpacity":{"condition":{"test":"slice(datum.value,-1)=='2'||slice(datum.value,-1)=='4'","value":1},"value":0},"labelExpr":"slice(datum.value,-1)=='2'?'6 h':slice(datum.value,-1)=='4'?'24 h':''","labelAngle":0,"labelFlush":false,"labelOverlap":false}},"color":{"field":"d","type":"nominal","legend":null},"shape":{"field":"d","type":"nominal","legend":null}}}
],
"resolve":{"scale":{"x":"independent"}}}}
],"spacing":29}
],
"spacing":43,
"config":{
"font":"Liberation Sans",
"view":{"stroke":null},
"range":{"category":["#1f8a3b","#1547b0"],"symbol":["triangle-down","diamond"]},
"area":{"stroke":"#000","strokeWidth":1},
"axis":{"domainColor":"#000","domainWidth":2,"tickColor":"#000","tickWidth":2,"labelColor":"#000","labelFontWeight":"bold","labelFontSize":11.5,"titleFontWeight":"bold","titleFontSize":12.5,"titleColor":"#000","grid":false},
"axisY":{"offset":20,"labelPadding":4,"titlePadding":8},
"axisX":{"offset":20,"labelPadding":1},
"title":{"fontSize":17,"fontWeight":"bold","color":"#000"},
"header":{"titleFontSize":12.5,"titleFontWeight":"bold","titleColor":"#000","titlePadding":31}
}
}
